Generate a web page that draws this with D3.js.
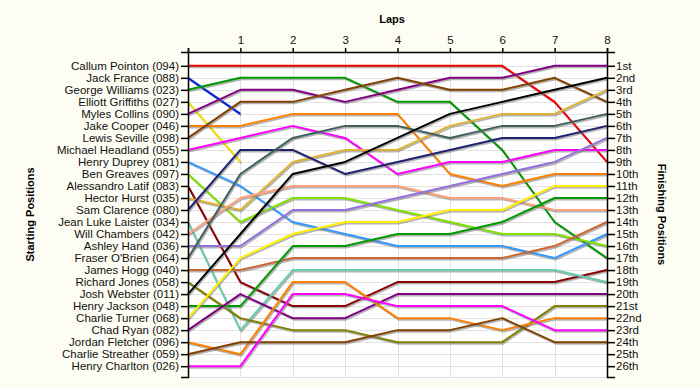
<!DOCTYPE html>
<html>
<head>
<meta charset="utf-8">
<script src="https://cdn.jsdelivr.net/npm/d3@7"></script>
<style>
  body { margin: 0; background: #fdfdf3; }
  svg { display: block; font-family: "Liberation Sans", Arial, sans-serif; }
</style>
</head>
<body>
<div id="chart"></div>
<script>
// Data: starting order, and position at each lap (null = retired)
const laps = [0, 1, 2, 3, 4, 5, 6, 7, 8];
const riders = [
  "Callum Pointon (094)", "Jack France (088)", "George Williams (023)", "Elliott Griffiths (027)",
  "Myles Collins (090)", "Jake Cooper (046)", "Lewis Seville (098)", "Michael Headland (055)",
  "Henry Duprey (081)", "Ben Greaves (097)", "Alessandro Latif (083)", "Hector Hurst (035)",
  "Sam Clarence (080)", "Jean Luke Laister (034)", "Will Chambers (042)", "Ashley Hand (036)",
  "Fraser O'Brien (064)", "James Hogg (040)", "Richard Jones (058)", "Josh Webster (011)",
  "Henry Jackson (048)", "Charlie Turner (068)", "Chad Ryan (082)", "Jordan Fletcher (096)",
  "Charlie Streather (059)", "Henry Charlton (026)"
];
const positions = [
  [1, 1, 1, 1, 1, 1, 1, 4, 9],
  [2, 5, null, null, null, null, null, null, null],
  [3, 2, 2, 2, 4, 4, 8, 14, 17],
  [4, 9, null, null, null, null, null, null, null],
  [5, 3, 3, 4, 3, 2, 2, 1, 1],
  [6, 6, 5, 5, 5, 10, 11, 10, 10],
  [7, 4, 4, 3, 2, 3, 3, 2, 4],
  [8, 7, 6, 7, 10, 9, 9, 8, 8],
  [9, 11, 14, 15, 16, 16, 16, 17, 15],
  [10, 14, 12, 12, 13, 14, 15, 15, 16],
  [11, 19, 21, 21, 19, 19, 19, 19, 18],
  [12, 13, 9, 8, 8, 6, 5, 5, 3],
  [13, 8, 8, 10, 9, 8, 7, 7, 6],
  [14, 23, 18, 18, 18, 18, 18, 18, 19],
  [15, 12, 11, 11, 11, 12, 12, 13, 13],
  [16, 16, 13, 13, 12, 11, 10, 9, 7],
  [17, 10, 7, 6, 6, 7, 6, 6, 5],
  [18, 18, 17, 17, 17, 17, 17, 16, 14],
  [19, 22, 23, 23, 24, 24, 24, 21, 21],
  [20, 15, 10, 9, 7, 5, 4, 3, 2],
  [21, 21, 16, 16, 15, 15, 14, 12, 12],
  [22, 17, 15, 14, 14, 13, 13, 11, 11],
  [23, 20, 22, 22, 20, 20, 20, 20, 20],
  [24, 25, 19, 19, 22, 22, 23, 22, 22],
  [25, 24, 24, 24, 23, 23, 22, 24, 24],
  [26, 26, 20, 20, 21, 21, 21, 23, 23]
];
const ranks = d3.range(1, 27);

const colors = [
  "#ee0000", "#0022dd", "#009900", "#ffdd00", "#800080", "#ff8000", "#804000", "#ff00ff",
  "#3399ff", "#80e000", "#880000", "#e0b030", "#202070", "#66ccaa", "#ffa07a", "#9370db",
  "#3f5f5f", "#cc6633", "#808000", "#000000", "#009900", "#ffee00", "#800080", "#ff8000",
  "#804000", "#ff00ff"
];

function ordinal(n) {
  const s = n % 100;
  if (s >= 11 && s <= 13) return n + "th";
  return n + ({ 1: "st", 2: "nd", 3: "rd" }[n % 10] || "th");
}

const W = 700, H = 390;
const svg = d3.select("#chart").append("svg").attr("width", W).attr("height", H);

const x = d3.scaleLinear().domain([0, 8]).range([188, 607]);
const y = d3.scaleLinear().domain([-0.15, 26.9]).range([52, 377]);

// plot background
svg.append("rect")
  .attr("x", x(0)).attr("y", y.range()[0])
  .attr("width", x(8) - x(0)).attr("height", y.range()[1] - y.range()[0])
  .attr("fill", "#ffffff");

// grid
const grid = svg.append("g").attr("stroke", "#e2e2e2").attr("stroke-width", 1);
grid.selectAll(".h").data(ranks.concat([y.domain()[1]])).join("line")
  .attr("x1", x(0)).attr("x2", x(8))
  .attr("y1", d => Math.round(y(d)) + 0.5).attr("y2", d => Math.round(y(d)) + 0.5);
grid.selectAll(".v").data(laps).join("line")
  .attr("x1", d => Math.round(x(d)) + 0.5).attr("x2", d => Math.round(x(d)) + 0.5)
  .attr("y1", y.range()[0]).attr("y2", y.range()[1]);

// lines
const line = d3.line()
  .defined(d => d != null)
  .x((d, i) => x(laps[i]))
  .y(d => y(d));

const series = svg.append("g").attr("fill", "none").attr("stroke-linejoin", "round");
positions.forEach((p, i) => {
  series.append("path")
    .attr("d", line(p))
    .attr("transform", "translate(1,1.5)")
    .attr("stroke", "#777").attr("stroke-opacity", 0.55).attr("stroke-width", 2);
  series.append("path")
    .attr("d", line(p))
    .attr("stroke", colors[i]).attr("stroke-width", 2);
});

// axes
const leftAxis = svg.append("g")
  .attr("transform", `translate(${x(0)},0)`)
  .call(d3.axisLeft(y).tickValues(ranks).tickSize(7).tickPadding(2)
    .tickFormat(d => riders[d - 1]));
const rightAxis = svg.append("g")
  .attr("transform", `translate(${x(8)},0)`)
  .call(d3.axisRight(y).tickValues(ranks).tickSize(8).tickPadding(1)
    .tickFormat(ordinal));
const topAxis = svg.append("g")
  .attr("transform", `translate(0,${y.range()[0]})`)
  .call(d3.axisTop(x).tickValues(laps).tickSize(4).tickSizeOuter(4).tickPadding(4)
    .tickFormat(d => d === 0 ? "" : d));

[leftAxis, rightAxis, topAxis].forEach(g => {
  g.selectAll("path, line").attr("stroke", "#000").attr("stroke-width", 1.5);
  g.selectAll("text").attr("font-size", 11.5).attr("fill", "#111")
    .attr("font-family", "'Liberation Sans', Arial, sans-serif");
});

// titles
svg.append("text")
  .attr("x", 392).attr("y", 23)
  .attr("text-anchor", "middle").attr("font-weight", "bold").attr("font-size", 11)
  .text("Laps");
svg.append("text")
  .attr("transform", `translate(34,${(y.range()[0] + y.range()[1]) / 2}) rotate(-90)`)
  .attr("text-anchor", "middle").attr("font-weight", "bold").attr("font-size", 11)
  .text("Starting Positions");
svg.append("text")
  .attr("transform", `translate(658,${(y.range()[0] + y.range()[1]) / 2}) rotate(90)`)
  .attr("text-anchor", "middle").attr("font-weight", "bold").attr("font-size", 11)
  .text("Finishing Positions");
</script>
</body>
</html>
